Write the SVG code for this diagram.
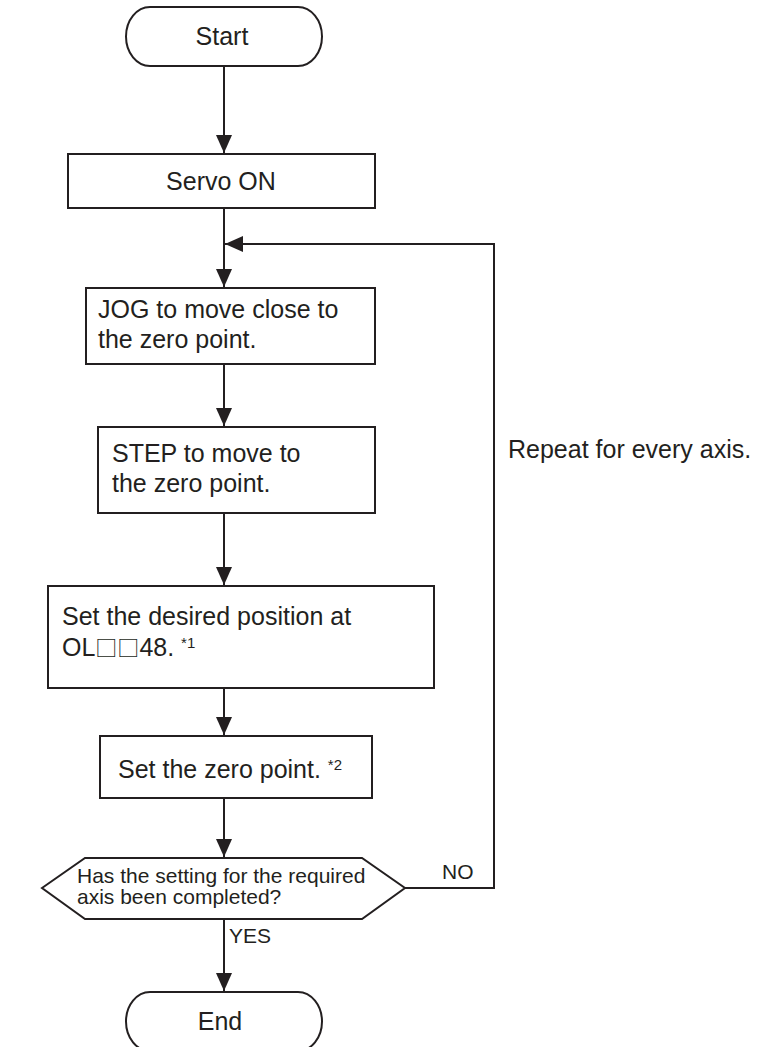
<svg xmlns="http://www.w3.org/2000/svg" width="769" height="1047" viewBox="0 0 769 1047">
<defs>
<marker id="ah" markerUnits="userSpaceOnUse" markerWidth="18" markerHeight="18" viewBox="0 0 18 16" refX="18" refY="8" orient="auto">
<path d="M0,0 L18,8 L0,16 Z" fill="#231f20"/>
</marker>
<style>
.box{fill:#fff;stroke:#231f20;stroke-width:2}
.ln{fill:none;stroke:#231f20;stroke-width:2}
.t{font-family:"Liberation Sans",Arial,"DejaVu Sans",sans-serif;fill:#231f20}
.big{font-size:25px}
.mid{font-size:21px}
.sup{font-size:15px}
.sq{font-family:"Noto Sans CJK JP","DejaVu Sans",sans-serif;font-size:22px}
</style>
</defs>
<rect width="769" height="1047" fill="#fff"/>
<g id="connectors">
<path class="ln" d="M224,66 V153" marker-end="url(#ah)"/>
<path class="ln" d="M224,208 V287" marker-end="url(#ah)"/>
<path class="ln" d="M405,888 H494 V244 H225" marker-end="url(#ah)"/>
<path class="ln" d="M224,364 V426" marker-end="url(#ah)"/>
<path class="ln" d="M224,513 V585" marker-end="url(#ah)"/>
<path class="ln" d="M224,688 V735" marker-end="url(#ah)"/>
<path class="ln" d="M224,798 V857" marker-end="url(#ah)"/>
<path class="ln" d="M224,919 V991" marker-end="url(#ah)"/>
<text class="t mid" x="442" y="879">NO</text>
<text class="t mid" x="229" y="943">YES</text>
<text class="t big" x="508" y="458">Repeat for every axis.</text>
</g>
<g id="start">
<path class="box" d="M150,7 H298 A24,29.5 0 0 1 298,66 H150 A24,29.5 0 0 1 150,7 Z"/>
<text class="t big" x="222" y="45" text-anchor="middle">Start</text>
</g>
<g id="servo">
<rect class="box" x="68" y="154" width="307" height="54"/>
<text class="t big" x="221" y="190" text-anchor="middle">Servo ON</text>
</g>
<g id="jog">
<rect class="box" x="86" y="288" width="289" height="76"/>
<text class="t big" x="98" y="318">JOG to move close to</text>
<text class="t big" x="98" y="348">the zero point.</text>
</g>
<g id="step">
<rect class="box" x="98" y="427" width="277" height="86"/>
<text class="t big" x="112" y="462">STEP to move to</text>
<text class="t big" x="112" y="492">the zero point.</text>
</g>
<g id="desired">
<rect class="box" x="48" y="586" width="386" height="102"/>
<text class="t big" x="62" y="625">Set the desired position at</text>
<text class="t big" x="62" y="656">OL<tspan class="sq">□□</tspan>48. <tspan class="sup" dy="-8">*1</tspan></text>
</g>
<g id="zero">
<rect class="box" x="100" y="736" width="272" height="62"/>
<text class="t big" x="118" y="778">Set the zero point. <tspan class="sup" dy="-8">*2</tspan></text>
</g>
<g id="decision">
<path class="box" d="M42,888 L85,858 H362 L405,888 L362,919 H85 Z"/>
<text class="t mid" x="77" y="883">Has the setting for the required</text>
<text class="t mid" x="77" y="904">axis been completed?</text>
</g>
<g id="end">
<path class="box" d="M150,992 H298 A24,29.5 0 0 1 298,1051 H150 A24,29.5 0 0 1 150,992 Z"/>
<text class="t big" x="220" y="1030" text-anchor="middle">End</text>
</g>
</svg>
